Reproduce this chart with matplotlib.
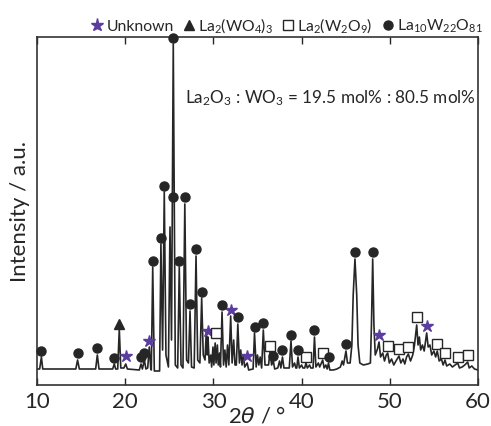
import matplotlib
matplotlib.use("Agg")
import matplotlib.pyplot as plt
from matplotlib.lines import Line2D

plt.rcParams['font.family'] = ['Lato', 'DejaVu Sans']
plt.rcParams['mathtext.default'] = 'regular'

# ---- XRD trace (2theta in degrees, intensity in a.u.) ----
two_theta = [10.0, 10.3, 10.5, 10.65, 14.4, 14.6, 14.8, 16.65, 16.84, 17.03,
             18.58, 18.76, 18.92, 19.15, 19.33, 19.5, 19.85, 20.06, 20.25,
             21.6, 21.79, 21.95, 22.17, 22.35, 22.55, 22.73, 22.9,
             22.96, 23.12, 23.3, 23.9, 24.05, 24.24, 24.43, 24.62,
             24.9, 25.08, 25.25, 25.45, 25.68,
             25.95, 26.13, 26.33, 26.55, 26.76, 26.96, 27.17, 27.35, 27.52,
             27.82, 28.03, 28.22, 28.47, 28.67, 28.85,
             29.05, 29.2, 29.3, 29.39, 29.52,
             29.7, 29.8, 29.95, 30.05, 30.2, 30.3, 30.45, 30.55, 30.7, 30.8,
             30.98, 31.15, 31.3, 31.45, 31.6, 31.75, 31.96, 32.12, 32.3, 32.45,
             32.6, 32.77, 32.95, 33.1, 33.25, 33.4, 33.55, 33.83, 34.0,
             34.5, 34.66, 34.85, 35.0, 35.15, 35.3, 35.47, 35.66, 35.85,
             36.25, 36.42, 36.6, 36.79, 36.95, 37.3, 37.5, 37.65, 37.83, 38.0,
             38.6, 38.8, 38.97, 39.2, 39.35, 39.45, 39.59, 39.75, 40.0, 40.15,
             40.35, 40.5, 40.65, 40.9, 41.05, 41.3, 41.46, 41.62, 41.9, 42.05,
             42.39, 42.55, 42.75, 42.9, 43.05, 43.2, 43.6, 44.0, 44.4, 44.6,
             44.75, 45.03, 45.2,
             45.5, 45.7, 45.85, 46.05, 46.25, 46.4, 46.6, 47.0, 47.5,
             47.8, 47.92, 48.06, 48.2, 48.35,
             48.6, 48.78, 48.95, 49.2, 49.4, 49.6, 49.76, 49.95, 50.2, 50.45,
             50.7, 51.04, 51.25, 51.5, 51.7, 51.9, 52.1, 52.35, 52.6, 52.8,
             53.05, 53.2, 53.35, 53.5, 53.7, 53.9, 54.18, 54.35, 54.55, 54.75,
             55.0, 55.2, 55.38, 55.6, 55.85, 56.05, 56.26, 56.45, 56.8, 57.1,
             57.4, 57.7, 57.9, 58.2, 58.5, 58.83, 59.0, 59.3, 59.6, 60.0]
intensity = [16, 16, 28, 16, 16, 25, 16, 16, 30, 16,
             16, 21, 16, 16, 56, 17, 17, 21, 16,
             15, 21, 16, 25, 16, 17, 38, 16,
             15, 118, 14, 14, 141, 35, 193, 30,
             18, 158, 45, 341, 20,
             17, 118, 20, 17, 181, 25, 22, 74, 18,
             17, 129, 25, 22, 87, 30,
             25, 55, 30, 48, 22,
             30, 18, 38, 20, 42, 22, 40, 20, 32, 18,
             73, 20, 35, 18, 40, 20, 69, 22, 45, 20,
             20, 61, 22, 35, 20, 30, 18, 22, 15,
             16, 52, 18, 30, 20, 28, 17, 55, 20,
             20, 33, 20, 24, 16, 17, 24, 17, 28, 17,
             17, 44, 18, 22, 17, 17, 28, 17, 20, 17,
             17, 22, 17, 20, 17, 17, 48, 18, 22, 18,
             25, 17, 20, 16, 22, 15, 15, 16, 18, 24,
             20, 34, 22,
             22, 40, 90, 126, 90, 40, 22, 20, 21,
             22, 60, 126, 60, 30,
             36, 43, 28, 32, 24, 30, 32, 22, 26, 20,
             24, 29, 22, 26, 21, 28, 31, 24, 30, 40,
             60, 40, 48, 35, 40, 34, 52, 38, 40, 30,
             34, 28, 34, 24, 26, 20, 25, 19, 21, 18,
             20, 22, 17, 18, 20, 23, 17, 19, 16, 15]

# ---- phase markers (2theta, marker height) ----
unknown_tt = [20.06, 22.73, 29.39, 31.96, 33.83, 48.78, 54.18]
unknown_i = [29, 44.5, 54.5, 75.5, 29, 50, 58.7]

la2wo43_tt = [19.33]
la2wo43_i = [61]

la2w2o9_tt = [30.29, 36.42, 40.5, 42.39, 49.76, 51.04, 52.1, 53.05, 55.38, 56.26, 57.7, 58.83]
la2w2o9_i = [52, 39, 28.3, 32, 38.7, 36, 37.7, 67.7, 41, 32, 28.3, 30]

la10_tt = [10.51, 14.61, 16.84, 18.76, 21.79, 22.17, 23.12, 24.05, 24.43, 25.45,
           25.39, 26.13, 26.76, 27.35, 28.03, 28.67, 30.98, 32.77, 34.66, 35.66,
           36.79, 37.83, 38.8, 39.59, 41.46, 43.05, 45.03, 46.05, 48.06]
la10_i = [34.5, 32, 36.7, 27, 28, 32, 124.3, 147.5, 199.5, 347,
          187.7, 124.3, 188, 81.5, 136, 93.5, 80, 68, 58.3, 62,
          29.3, 35, 50.5, 35, 55.2, 28.5, 41, 132.7, 132.7]

x_ticks = [10, 20, 30, 40, 50, 60]

purple = '#5a3d9e'
ink = '#262626'

fig = plt.figure(figsize=(4.91, 4.27), dpi=100)
ax = fig.add_axes([37/491, 41/427, (478-37)/491, (386-38)/427])

ax.plot(two_theta, intensity, color=ink, lw=1.2)

ms = 6.5
ax.plot(unknown_tt, unknown_i, ls='none', marker='*', ms=ms+2.5, color=purple, mec=purple, clip_on=False)
ax.plot(la2wo43_tt, la2wo43_i, ls='none', marker='^', ms=ms, color=ink, clip_on=False)
ax.plot(la2w2o9_tt, la2w2o9_i, ls='none', marker='s', ms=ms, mfc='white', mec=ink, mew=1.0, clip_on=False)
ax.plot(la10_tt, la10_i, ls='none', marker='o', ms=ms, color=ink, clip_on=False, zorder=5)

ax.set_xlim(10, 60)
ax.set_ylim(0, 348)
ax.set_xticks(x_ticks)
ax.set_xticklabels([str(t) for t in x_ticks])
ax.set_yticks([])
ax.tick_params(axis='x', direction='in', top=True, bottom=True, length=5, width=1.0,
               labelsize=16, pad=4, colors=ink)
for s in ax.spines.values():
    s.set_linewidth(1.2)
    s.set_color('#333333')

ax.set_xlabel(r'2$\mathit{\theta}$ / °', fontsize=16, labelpad=-4, color=ink)
ax.set_ylabel('Intensity / a.u.', fontsize=16, labelpad=5, color=ink)

ax.text((185-37)/441, (386-98)/348, r'La$_2$O$_3$ : WO$_3$ = 19.5 mol% : 80.5 mol%',
        transform=ax.transAxes, fontsize=12.3, va='center', ha='left', color=ink)

handles = [
    Line2D([], [], ls='none', marker='*', ms=ms+3, color=purple),
    Line2D([], [], ls='none', marker='^', ms=ms, color=ink),
    Line2D([], [], ls='none', marker='s', ms=ms, mfc='white', mec=ink, mew=1.0),
    Line2D([], [], ls='none', marker='o', ms=ms, color=ink),
]
labels = ['Unknown', r'La$_2$(WO$_4$)$_3$', r'La$_2$(W$_2$O$_9$)', r'La$_{10}$W$_{22}$O$_{81}$']
fig.legend(handles, labels, loc='center', bbox_to_anchor=(286/491, 1-26/427), ncol=4,
           frameon=False, fontsize=11.3, handletextpad=0.1, columnspacing=0.45,
           handlelength=1.0, borderpad=0, labelcolor=ink)

fig.savefig('out.png', dpi=100)
